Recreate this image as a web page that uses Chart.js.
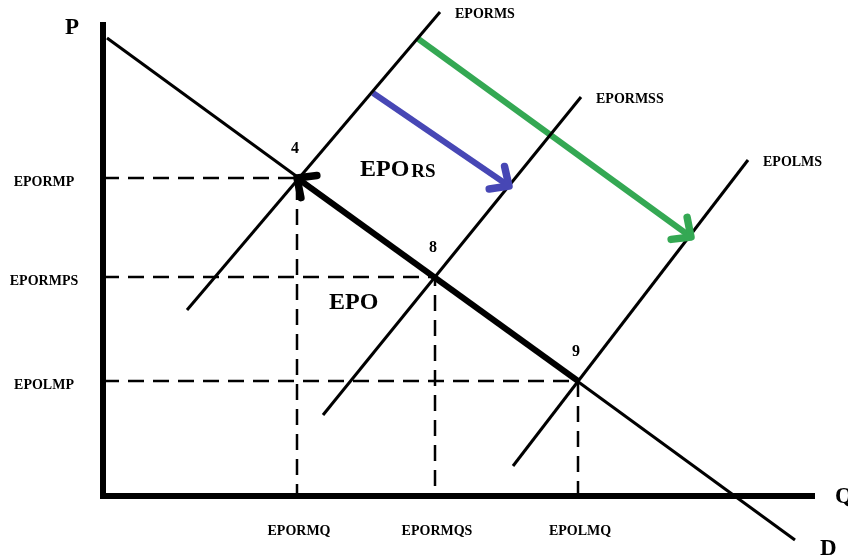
<!DOCTYPE html>
<html>
<head>
<meta charset="utf-8">
<script src="https://cdn.jsdelivr.net/npm/chart.js@4.4.1/dist/chart.umd.min.js"></script>
<style>
  body { margin: 0; background: #fff; }
  #wrap { width: 848px; height: 559px; }
</style>
</head>
<body>
<div id="wrap"><canvas id="diagram" width="848" height="559"></canvas></div>
<script>
// price and quantity levels at the three equilibria (4, 8, 9)
const priceLevels = [31.8, 21.9, 11.5];
const quantityLevels = [19.4, 33.2, 47.5];
const priceLabels = ["EPORMP", "EPORMPS", "EPOLMP"];
const quantityLabels = ["EPORMQ", "EPORMQS", "EPOLMQ"];
const pointLabels = ["4", "8", "9"];

// curves
const demandCurve = [{ x: 0.4, y: 45.8 }, { x: 69.2, y: -4.4 }];
const supplyOriginal = [{ x: 8.4, y: 18.6 }, { x: 33.7, y: 48.4 }];
const supplyShifted = [{ x: 22, y: 8.1 }, { x: 47.8, y: 39.9 }];
const supplyLast = [{ x: 41, y: 3.0 }, { x: 64.5, y: 33.6 }];
const supplyLabels = ["EPORMS", "EPORMSS", "EPOLMS"];

// shift arrows
const blueShift = [{ x: 27, y: 40.3 }, { x: 40.6, y: 31.0 }];
const greenShift = [{ x: 31.4, y: 45.8 }, { x: 58.8, y: 25.9 }];

const axisY = [{ x: 0, y: 47.4 }, { x: 0, y: 0 }, { x: 71.2, y: 0 }];

const SERIF = "'Liberation Serif', 'DejaVu Serif', serif";

function line(data, color, width, extra) {
  return Object.assign({
    data: data,
    showLine: true,
    borderColor: color,
    borderWidth: width,
    pointRadius: 0,
    fill: false,
    tension: 0
  }, extra || {});
}

let datasets = [];

// dashed guides
for (let i = 0; i < priceLevels.length; i++) {
  datasets.push(line([
    { x: 0, y: priceLevels[i] },
    { x: quantityLevels[i], y: priceLevels[i] },
    { x: quantityLevels[i], y: 0 }
  ], "#000", 2.5, { borderDash: [16, 9] }));
}

datasets.push(line(demandCurve, "#000", 3));
datasets.push(line(supplyOriginal, "#000", 3));
datasets.push(line(supplyShifted, "#000", 3));
datasets.push(line(supplyLast, "#000", 3));

// thick demand movement 9 -> 4
datasets.push(line([
  { x: quantityLevels[2], y: priceLevels[2] },
  { x: quantityLevels[0], y: priceLevels[0] }
], "#000", 6, { arrow: true }));

datasets.push(line(blueShift, "#4747b5", 6, { arrow: true }));
datasets.push(line(greenShift, "#34a853", 6, { arrow: true }));

datasets.push(line(axisY, "#000", 6, { borderJoinStyle: "miter" }));

const labelPlugin = {
  id: "labels",
  afterDatasetsDraw(chart) {
    const ctx = chart.ctx;
    const xs = chart.scales.x, ys = chart.scales.y;
    const px = v => xs.getPixelForValue(v);
    const py = v => ys.getPixelForValue(v);

    // arrowheads
    chart.data.datasets.forEach((ds, i) => {
      if (!ds.arrow) return;
      const pts = chart.getDatasetMeta(i).data;
      const a = pts[pts.length - 2], b = pts[pts.length - 1];
      const ang = Math.atan2(a.y - b.y, a.x - b.x);
      const len = 20, spread = Math.PI / 4.2;
      ctx.save();
      ctx.strokeStyle = ds.borderColor;
      ctx.lineWidth = 7.5;
      ctx.lineCap = "round";
      ctx.lineJoin = "round";
      ctx.beginPath();
      ctx.moveTo(b.x + len * Math.cos(ang + spread), b.y + len * Math.sin(ang + spread));
      ctx.lineTo(b.x, b.y);
      ctx.lineTo(b.x + len * Math.cos(ang - spread), b.y + len * Math.sin(ang - spread));
      ctx.stroke();
      ctx.restore();
    });

    ctx.save();
    ctx.fillStyle = "#000";
    ctx.textBaseline = "middle";

    // price labels
    ctx.font = "bold 14px " + SERIF;
    ctx.textAlign = "center";
    priceLabels.forEach((t, i) => ctx.fillText(t, 44, py(priceLevels[i]) + 4));

    // quantity labels
    quantityLabels.forEach((t, i) => ctx.fillText(t, px(quantityLevels[i]) + 2, py(0) + 35));

    // supply labels
    ctx.textAlign = "left";
    [supplyOriginal, supplyShifted, supplyLast].forEach((c, i) => {
      const top = c[c.length - 1];
      ctx.fillText(supplyLabels[i], px(top.x) + 15, py(top.y) + 2);
    });

    // equilibrium numbers
    ctx.font = "bold 16px " + SERIF;
    ctx.textAlign = "center";
    pointLabels.forEach((t, i) => ctx.fillText(t, px(quantityLevels[i]) - 2, py(priceLevels[i]) - 29));

    // axis letters
    ctx.font = "bold 23px " + SERIF;
    ctx.fillText("P", px(-3.1), py(46.8));
    ctx.textAlign = "left";
    ctx.fillText("Q", px(73.2), py(-0.1));
    const dEnd = demandCurve[demandCurve.length - 1];
    ctx.fillText("D", px(dEnd.x) + 25, py(dEnd.y) + 9);

    // area names
    ctx.font = "bold 24px " + SERIF;
    ctx.fillText("EPO", px(22.6), py(19.3));
    ctx.fillText("EPO", px(25.7), py(32.6));
    const w = ctx.measureText("EPO").width;
    ctx.font = "bold 19px " + SERIF;
    ctx.fillText("RS", px(25.7) + w + 2, py(32.6) + 2);
    ctx.restore();
  }
};

new Chart(document.getElementById("diagram"), {
  type: "scatter",
  data: { datasets: datasets },
  options: {
    responsive: false,
    animation: false,
    layout: { padding: 0 },
    plugins: { legend: { display: false }, tooltip: { enabled: false } },
    scales: {
      x: { type: "linear", min: -10.3, max: 74.5, display: false },
      y: { type: "linear", min: -6.3, max: 49.6, display: false }
    }
  },
  plugins: [labelPlugin]
});
</script>
</body>
</html>
